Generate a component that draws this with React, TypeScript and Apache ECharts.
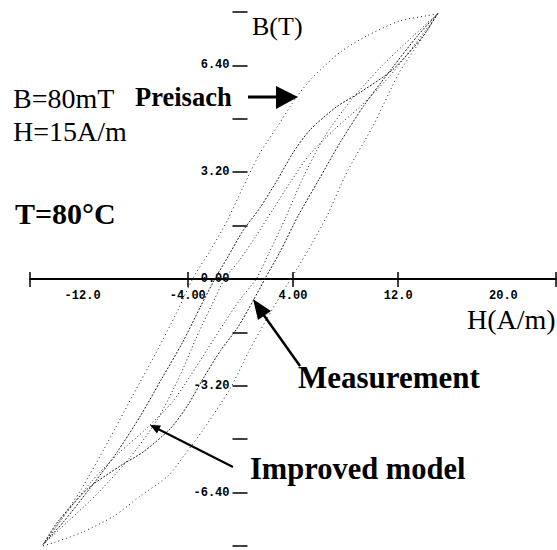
import React, { useEffect, useRef } from "react";
import * as echarts from "echarts";

const xTickValues = [-16, -4, 4, 12, 24];
const xLabelValues = [-12, -4, 4, 12, 20];
const yLabelValues = [-6.4, -3.2, 0, 3.2, 6.4];

// Preisach model loop (outer)
const preisachDown = [
  [15, 7.95], [14.2, 7.89], [12.1, 7.73], [9.6, 7.28], [7.6, 6.8], [5.5, 6.04], [4.3, 5.47],
  [2.8, 4.56], [1.5, 3.78], [0.2, 2.75], [-1.0, 1.75], [-2.3, 0.85], [-3.6, 0.03], [-4.8, -0.97],
  [-6.4, -2.2], [-8.2, -3.5], [-10.1, -4.9], [-12.1, -6.3], [-13.8, -7.3], [-15, -8.0],
];
const preisachUp = [
  [-15, -8.0], [-14.2, -7.9], [-12.1, -7.6], [-9.6, -7.1], [-7.6, -6.5], [-5.5, -5.9], [-4.3, -5.3],
  [-2.8, -4.5], [-0.8, -3.3], [0.6, -2.2], [2.0, -1.2], [3.2, -0.4], [4.3, 0.3], [5.5, 1.1],
  [6.6, 1.9], [8.1, 3.2], [10.1, 4.6], [12.1, 6.2], [13.8, 7.2], [15, 7.95],
];

// Measurement loop
const measuredDown = [
  [15, 7.95], [13.9, 7.28], [11.6, 6.28], [9.1, 5.59], [7.35, 5.17], [5.3, 4.47], [4.0, 3.78],
  [2.8, 2.96], [1.5, 2.14], [0.2, 1.45], [-1.0, 0.63], [-1.9, 0.03], [-3.0, -0.8], [-4.4, -1.9],
  [-6.0, -3.0], [-7.6, -4.1], [-9.4, -5.2], [-11.5, -6.3], [-13.5, -7.3], [-15, -7.95],
];
const measuredUp = [
  [-15, -7.95], [-13.9, -7.28], [-11.6, -6.28], [-9.1, -5.59], [-7.35, -5.17], [-5.3, -4.47],
  [-4.0, -3.78], [-2.8, -2.96], [-1.5, -2.14], [-0.2, -1.45], [1.0, -0.63], [1.9, 0.03], [3.0, 0.8],
  [4.4, 1.9], [6.0, 3.0], [7.6, 4.1], [9.4, 5.2], [11.5, 6.3], [13.5, 7.3], [15, 7.95],
];

// Improved model loop
const improvedDown = [
  [15, 7.95], [13.6, 7.2], [11.4, 6.1], [9.2, 5.2], [7.2, 4.5], [5.2, 3.7], [3.8, 2.9], [2.5, 2.1],
  [1.2, 1.3], [0, 0.6], [-1.2, 0], [-2.2, -0.8], [-3.4, -1.8], [-4.6, -2.9], [-6.3, -4.2],
  [-8.3, -5.3], [-10.8, -6.4], [-13.2, -7.3], [-15, -7.95],
];
const improvedUp = [
  [-15, -7.95], [-13.6, -7.2], [-11.4, -6.1], [-9.2, -5.2], [-7.2, -4.5], [-5.2, -3.7], [-3.8, -2.9],
  [-2.5, -2.1], [-1.2, -1.3], [0, -0.6], [1.2, 0], [2.2, 0.8], [3.4, 1.8], [4.6, 2.9], [6.3, 4.2],
  [8.3, 5.3], [10.8, 6.4], [13.2, 7.3], [15, 7.95],
];

const serif = "'Liberation Serif', 'Times New Roman', serif";
const mono = "'Liberation Mono', 'DejaVu Sans Mono', monospace";

function loopSeries(name: string, data: number[][], type: any, color: string) {
  return {
    name,
    type: "line",
    data,
    showSymbol: false,
    smooth: 0.25,
    xAxisIndex: 0,
    yAxisIndex: 0,
    lineStyle: { color, width: 1, type },
  };
}

function txt(text: string, x: number, y: number, size: number, bold: boolean) {
  return {
    type: "text",
    x,
    y,
    style: {
      text,
      fill: "#000",
      fontFamily: serif,
      fontSize: size,
      fontWeight: bold ? "bold" : "normal",
      align: "left",
      verticalAlign: "middle",
    },
  };
}

const hidden = {
  axisLine: { show: false },
  axisTick: { show: false },
  axisLabel: { show: false },
  splitLine: { show: false },
};

export default function App() {
  const ref = useRef<HTMLDivElement>(null);
  useEffect(() => {
    const chart = echarts.init(ref.current!, null, { renderer: "svg" });
    const tickLabel = {
      color: "#000",
      fontFamily: mono,
      fontSize: 12,
      fontWeight: "bold",
    };
    chart.setOption({
      animation: false,
      backgroundColor: "#fff",
      grid: [
        // data grid
        { left: 30, right: 1, top: 12, bottom: 4, containLabel: false, outerBoundsMode: "none" },
        // grid whose bottom edge is the B = 0 line (carries H ticks/labels)
        { left: 30, right: 1, top: 12, height: 267, containLabel: false, outerBoundsMode: "none" },
        // grid whose left edge is the H = 0 line (carries B ticks/labels)
        { left: 240.5, right: 1, top: 12, bottom: 4, containLabel: false, outerBoundsMode: "none" },
      ],
      xAxis: [
        {
          gridIndex: 0,
          type: "value",
          min: -16,
          max: 24,
          axisLine: { show: true, onZero: true, lineStyle: { color: "#000", width: 2 } },
          axisTick: { show: false },
          axisLabel: { show: false },
          splitLine: { show: false },
        },
        {
          gridIndex: 1,
          type: "value",
          min: -16,
          max: 24,
          position: "bottom",
          offset: -7,
          axisLine: { show: false, onZero: false },
          axisTick: { show: true, customValues: xTickValues, length: 15, lineStyle: { color: "#000", width: 1.5 } },
          axisLabel: {
            ...tickLabel,
            customValues: xLabelValues,
            margin: 18,
            formatter: (v: number) => v.toPrecision(3),
          },
          splitLine: { show: false },
        },
        { gridIndex: 2, type: "value", min: -16, max: 24, show: false, ...hidden },
      ],
      yAxis: [
        { gridIndex: 0, type: "value", min: -8, max: 8, interval: 1.6, ...hidden },
        { gridIndex: 1, type: "value", min: 0, max: 8, show: false, ...hidden },
        {
          gridIndex: 2,
          type: "value",
          min: -8,
          max: 8,
          interval: 1.6,
          position: "left",
          offset: -7,
          axisLine: { show: false, onZero: false },
          axisTick: { show: true, length: 15, lineStyle: { color: "#000", width: 1.5 } },
          axisLabel: {
            ...tickLabel,
            customValues: yLabelValues,
            margin: 18,
            formatter: (v: number) => v.toFixed(2),
          },
          splitLine: { show: false },
        },
      ],
      series: [
        loopSeries("Preisach", preisachDown, [1, 3], "#222"),
        loopSeries("Preisach", preisachUp, [1, 3], "#222"),
        loopSeries("Measurement", measuredDown, [2, 1.5], "#222"),
        loopSeries("Measurement", measuredUp, [2, 1.5], "#222"),
        loopSeries("Improved model", improvedDown, [1, 2.5], "#222"),
        loopSeries("Improved model", improvedUp, [1, 2.5], "#222"),
      ],
      graphic: [
        txt("B(T)", 252, 26, 26, false),
        txt("H(A/m)", 467, 319, 28, false),
        txt("B=80mT", 13, 98, 28, false),
        txt("H=15A/m", 13, 131, 28, false),
        txt("T=80°C", 15, 213, 30, true),
        txt("Preisach", 135, 97, 26.5, true),
        txt("Measurement", 298, 377, 31, true),
        txt("Improved model", 250, 469, 30.5, true),
        { type: "line", shape: { x1: 248, y1: 97, x2: 280, y2: 97 }, style: { stroke: "#000", lineWidth: 3 } },
        { type: "polygon", shape: { points: [[276, 86], [298, 97], [276, 109]] }, style: { fill: "#000" } },
        { type: "line", shape: { x1: 300, y1: 366, x2: 263, y2: 314 }, style: { stroke: "#000", lineWidth: 2.5 } },
        { type: "polygon", shape: { points: [[253, 299], [271, 311], [258, 320]] }, style: { fill: "#000" } },
        { type: "line", shape: { x1: 233, y1: 467, x2: 158, y2: 429 }, style: { stroke: "#000", lineWidth: 2 } },
        { type: "polygon", shape: { points: [[150, 425], [161, 425.5], [157, 433.5]] }, style: { fill: "#000" } },
      ],
    });
    return () => chart.dispose();
  }, []);
  return (
    <div
      ref={ref}
      style={{ position: "fixed", left: 0, top: 0, width: 557, height: 550, background: "#fff" }}
    />
  );
}
